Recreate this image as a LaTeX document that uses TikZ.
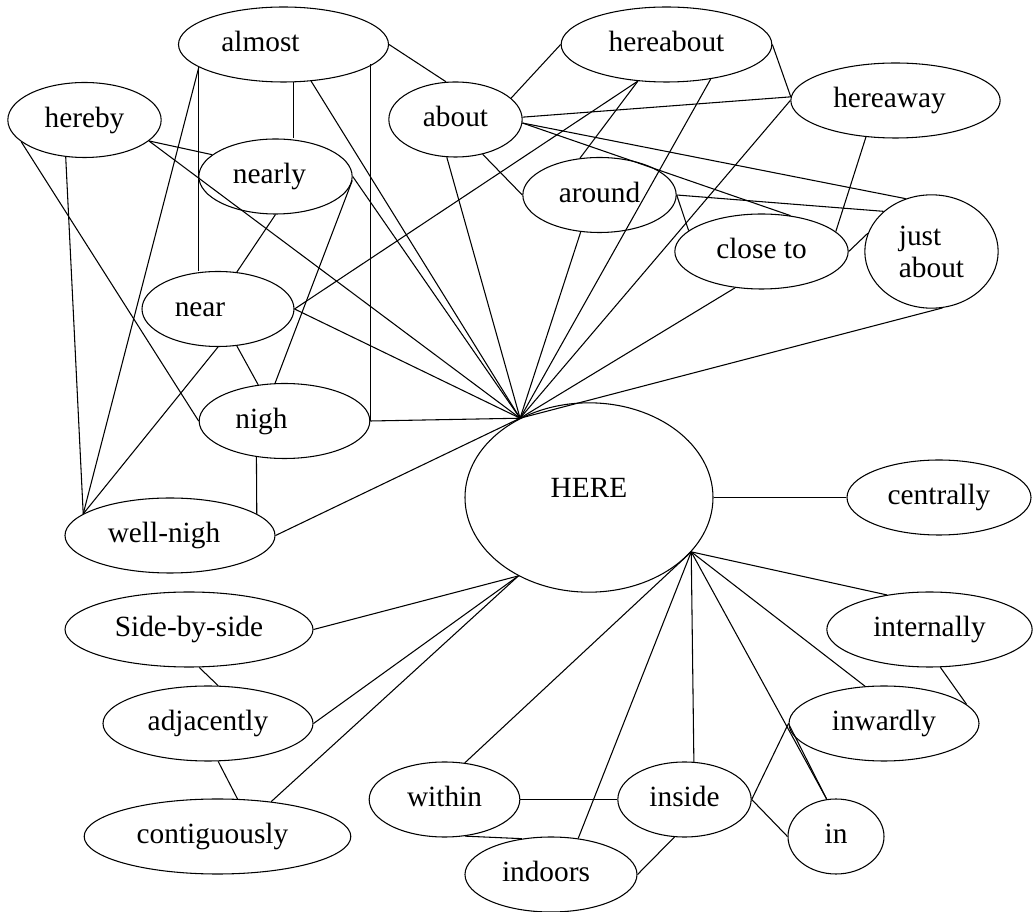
\documentclass[tikz,border=0pt]{standalone}
\usepackage{fontspec}
\setmainfont{Liberation Serif}
\usetikzlibrary{shapes.geometric}
\newcommand{\nudge}[1]{\hspace*{-#1}\hspace*{-#1}}

\begin{document}
\begin{tikzpicture}[x=0.75pt,y=-0.75pt,line width=0.8pt,
  word/.style={draw, ellipse, inner sep=0pt, minimum height=56.25pt,
    font=\fontsize{22}{24}\selectfont, text height=15.4pt, text depth=4.4pt}]
\useasboundingbox (0,0) rectangle (1033,912);

% Centre
\node[word, minimum width=186pt, minimum height=142pt] (here) at (589,497.5) {\raisebox{5.5pt}{HERE}};

% Words above
\node[word, minimum width=157.5pt] (almost) at (283.5,44.5) {\nudge{17.25pt}almost};
\node[word, minimum width=115pt] (hereby) at (84.5,120) {hereby};
\node[word, minimum width=100pt] (about) at (455.5,119.5) {about};
\node[word, minimum width=158pt] (hereabout) at (666.5,44.5) {hereabout};
\node[word, minimum width=157pt] (hereaway) at (895.5,100.5) {\nudge{4.5pt}hereaway};
\node[word, minimum width=115pt] (nearly) at (275.5,176.5) {\nudge{4.5pt}nearly};
\node[word, minimum width=115pt] (around) at (599.5,195) {around};
\node[word, minimum width=130pt] (closeto) at (761.5,251.5) {close to};
\node[word, minimum width=100pt, minimum height=85pt, align=left,
  text height=, text depth=] (justabout) at (931.5,251.5) {just\\about};
\node[word, minimum width=114pt] (near) at (218,309) {\nudge{13.5pt}near};
\node[word, minimum width=128pt] (nigh) at (284.5,421) {\nudge{17.25pt}nigh};
\node[word, minimum width=157.5pt] (wellnigh) at (170,535.5) {\nudge{4.5pt}well-nigh};

% Words below
\node[word, minimum width=138pt] (centrally) at (939,497.5) {centrally};
\node[word, minimum width=186pt] (sidebyside) at (189,629.5) {Side-by-side};
\node[word, minimum width=154pt] (internally) at (929.5,629.5) {internally};
\node[word, minimum width=157.5pt] (adjacently) at (208,723.5) {adjacently};
\node[word, minimum width=142.5pt] (inwardly) at (884,723.5) {inwardly};
\node[word, minimum width=113pt] (within) at (444.5,799.5) {within};
\node[word, minimum width=100pt] (inside) at (684.5,799.5) {inside};
\node[word, minimum width=200pt] (contiguously) at (217.5,836.5) {\nudge{3.75pt}contiguously};
\node[word, minimum width=72pt] (In) at (836,836.5) {in};
\node[word, minimum width=129pt] (indoors) at (551,874.5) {\nudge{3.75pt}indoors};

% Spokes into HERE
\foreach \w/\a in {almost/-53, hereby/-18, nearly/0, near/0, nigh/0, wellnigh/0,
    about/257, around/243, hereabout/-38, hereaway/180, closeto/234, justabout/281}
  \draw (\w.\a) -- (here.131);
\foreach \w/\a in {sidebyside/0, adjacently/0, contiguously/33}
  \draw (\w.\a) -- (here.228);
\foreach \w/\a in {within/61, indoors/53, inside/76, In/104, inwardly/117, internally/141}
  \draw (\w.\a) -- (here.332);
\draw (here.east) -- (centrally.west);

% Links on the left
\draw (almost.-75) -- (almost.-75 |- nearly.north);
\draw (almost.195) -- (almost.195 |- near.north);
\draw (almost.195) -- (wellnigh.166);
\draw (almost.-12 -| nigh.east) -- (nigh.east);
\draw (hereby.-18) -- (nearly.161);
\draw (hereby.243) -- (wellnigh.166);
\draw (hereby.199) -- (nigh.west);
\draw (nearly.south) -- (near.63);
\draw (nearly.-3) -- (nigh.104);
\draw (near.-63) -- (nigh.126);
\draw (near.south) -- (wellnigh.166);
\draw (nigh.232) -- (wellnigh.14);

% Links on the right
\draw (almost.east) -- (about.104);
\draw (near.east) -- (hereabout.232);
\draw (about.21) -- (hereabout.west);
\draw (about.-52) -- (around.west);
\draw (about.2) -- (hereaway.178);
\draw (about.-3) -- (closeto.51);
\draw (about.-3) -- (justabout.116);
\draw (hereabout.232) -- (around.118);
\draw (hereabout.east) -- (hereaway.178);
\draw (around.east) -- (closeto.164);
\draw (around.east) -- (justabout.140);
\draw (hereaway.231) -- (closeto.15);
\draw (closeto.east) -- (justabout.164);

% Links below
\draw (sidebyside.-75) -- (adjacently.75);
\draw (adjacently.-75) -- (contiguously.62);
\draw (within.east) -- (inside.west);
\draw (within.-61) -- (indoors.129);
\draw (indoors.east) -- (inside.255);
\draw (inside.east) -- (inwardly.west);
\draw (inside.east) -- (In.west);
\draw (inwardly.west) -- (In.104);
\draw (internally.-74) -- (inwardly.13);
\end{tikzpicture}
\end{document}
